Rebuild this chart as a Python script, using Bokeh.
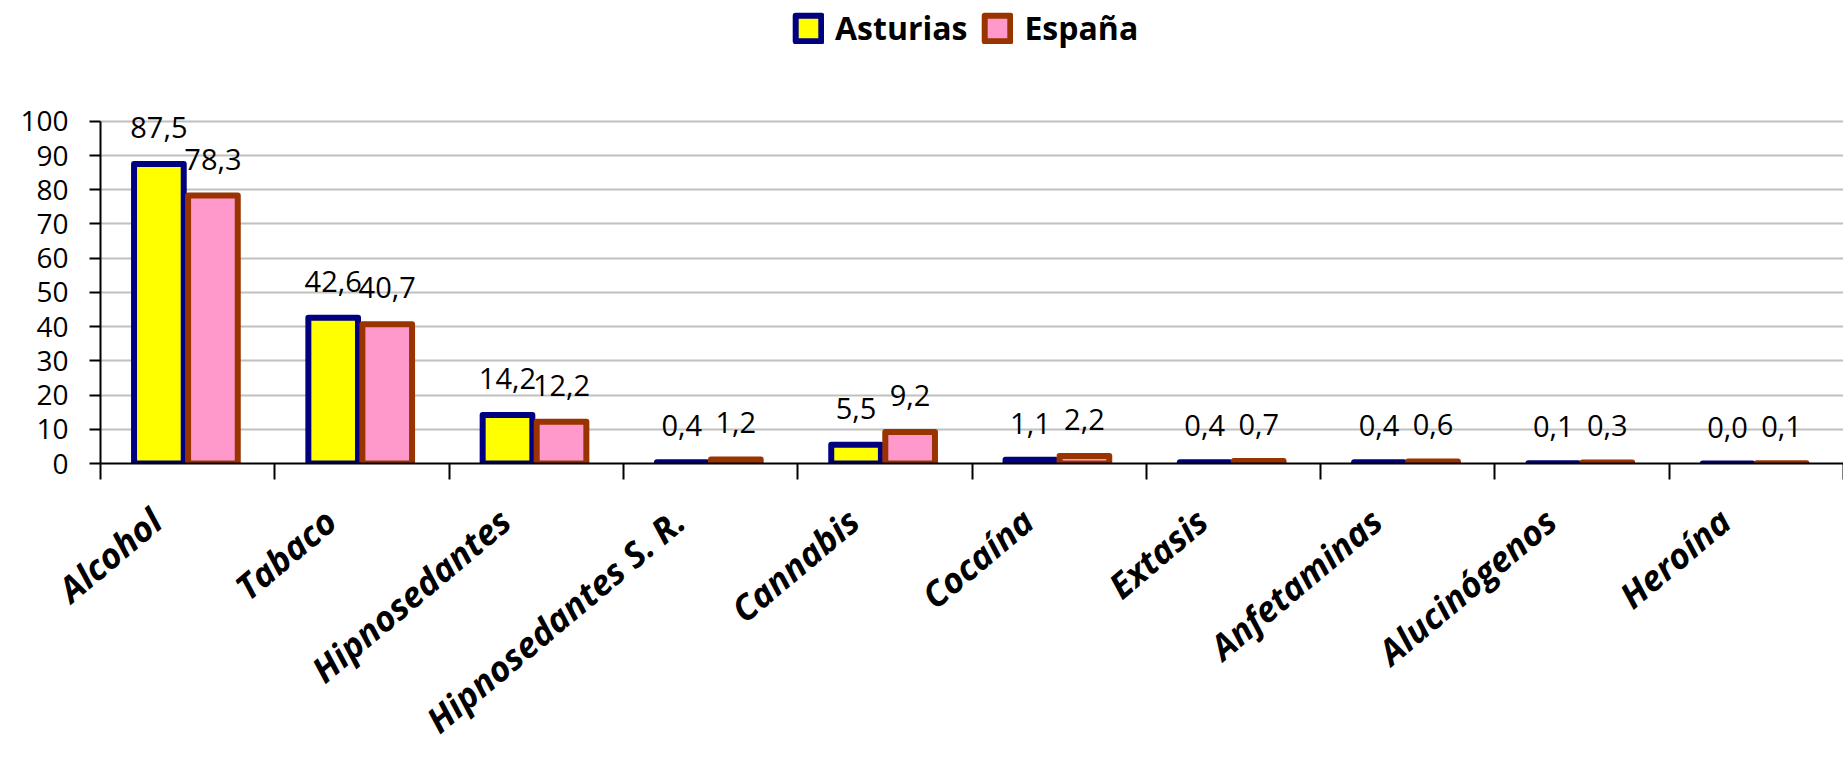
from bokeh.plotting import figure
from bokeh.models import (Range1d, FixedTicker, LabelSet, LinearAxis,
                          ColumnDataSource, Legend, LegendItem)
from bokeh.core.properties import value
from bokeh.transform import dodge
from bokeh.embed import file_html
from bokeh.resources import INLINE

categories = ["Alcohol", "Tabaco", "Hipnosedantes", "Hipnosedantes S. R.", "Cannabis",
              "Cocaína", "Extasis", "Anfetaminas", "Alucinógenos", "Heroína"]
asturias = [87.5, 42.6, 14.2, 0.4, 5.5, 1.1, 0.4, 0.4, 0.1, 0.0]
espana = [78.3, 40.7, 12.2, 1.2, 9.2, 2.2, 0.7, 0.6, 0.3, 0.1]
series_names = ["Asturias", "España"]
y_ticks = list(range(0, 101, 10))

FONT = "Open Sans"
N = len(categories)


def fmt(v):
    return f"{v:.1f}".replace(".", ",")


positions = [i + 0.5 for i in range(N)]
src = ColumnDataSource(dict(
    cat=categories,
    pos=positions,
    ast=asturias,
    esp=espana,
    ast_txt=[fmt(v) for v in asturias],
    esp_txt=[fmt(v) for v in espana],
))

# frame spans from the canvas top down to the value axis; the y range goes above 100
# so that data labels and the legend have room, while the axis line stops at 100
p = figure(width=1843, height=767,
           x_range=Range1d(0, N),
           y_range=Range1d(0, 135.3),
           output_backend="svg", toolbar_location=None,
           min_border_left=100, min_border_right=0,
           min_border_top=0, min_border_bottom=304)
p.outline_line_color = None
p.background_fill_color = "white"
p.border_fill_color = "white"

p.xgrid.grid_line_color = None
p.ygrid.grid_line_color = "#C0C0C0"
p.ygrid.grid_line_width = 2
p.ygrid.ticker = FixedTicker(ticks=y_ticks)

ya = p.yaxis[0]
ya.ticker = FixedTicker(ticks=y_ticks)
ya.bounds = (0, 100)
ya.major_tick_out = 11
ya.major_tick_in = 0
ya.minor_tick_out = 0
ya.minor_tick_in = 0
ya.axis_line_width = 2
ya.major_tick_line_width = 2
ya.axis_line_color = "black"
ya.major_tick_line_color = "black"
ya.major_label_text_font = FONT
ya.major_label_text_font_size = "28px"
ya.major_label_text_color = "black"
ya.major_label_standoff = 21

# category-boundary ticks
bounds_ticks = list(range(N + 1))
xa = p.xaxis[0]
xa.ticker = FixedTicker(ticks=bounds_ticks)
xa.major_label_overrides = {t: "" for t in bounds_ticks}
xa.major_label_text_font_size = "1px"
xa.major_label_standoff = 0
xa.major_tick_out = 16
xa.major_tick_in = 0
xa.minor_tick_out = 0
xa.minor_tick_in = 0
xa.axis_line_width = 2
xa.major_tick_line_width = 2
xa.axis_line_color = "black"
xa.major_tick_line_color = "black"

# category names
label_ticks = [c - 0.18 for c in positions]
ca = LinearAxis(ticker=FixedTicker(ticks=label_ticks),
                major_label_overrides={t: c for t, c in zip(label_ticks, categories)},
                major_label_orientation=0.70,
                major_label_standoff=36,
                major_label_text_font=FONT, major_label_text_font_size="35px",
                major_label_text_font_style="bold italic", major_label_text_color="black",
                axis_line_color=None, major_tick_line_color=None, minor_tick_line_color=None,
                major_tick_out=0, major_tick_in=0, minor_tick_out=0, minor_tick_in=0)
p.add_layout(ca, "below")

W = 0.285
r1 = p.vbar(x=dodge("pos", -0.165), top="ast", width=W, source=src,
            fill_color="#FFFF00", line_color="#000080", line_width=6, line_join="round")
r2 = p.vbar(x=dodge("pos", 0.145), top="esp", width=W, source=src,
            fill_color="#FF99CC", line_color="#993300", line_width=6, line_join="round")

lab1 = LabelSet(x=dodge("pos", -0.165), y="ast", text="ast_txt", source=src,
                text_align="center", text_baseline="alphabetic", y_offset=26,
                text_font=value(FONT), text_font_size="29px", text_color="black")
lab2 = LabelSet(x=dodge("pos", 0.145), y="esp", text="esp_txt", source=src,
                text_align="center", text_baseline="alphabetic", y_offset=26,
                text_font=value(FONT), text_font_size="29px", text_color="black")
p.add_layout(lab1)
p.add_layout(lab2)

legend = Legend(items=[LegendItem(label=series_names[0], renderers=[r1]),
                       LegendItem(label=series_names[1], renderers=[r2])],
                orientation="horizontal", location=(692, 414),
                padding=0, margin=0, spacing=14, glyph_width=32, glyph_height=32,
                label_standoff=11, label_text_font=FONT, label_text_font_size="32px",
                label_text_font_style="bold", label_text_color="black",
                border_line_color=None, background_fill_alpha=0)
p.add_layout(legend)

open("out.html", "w").write(file_html(p, INLINE))
